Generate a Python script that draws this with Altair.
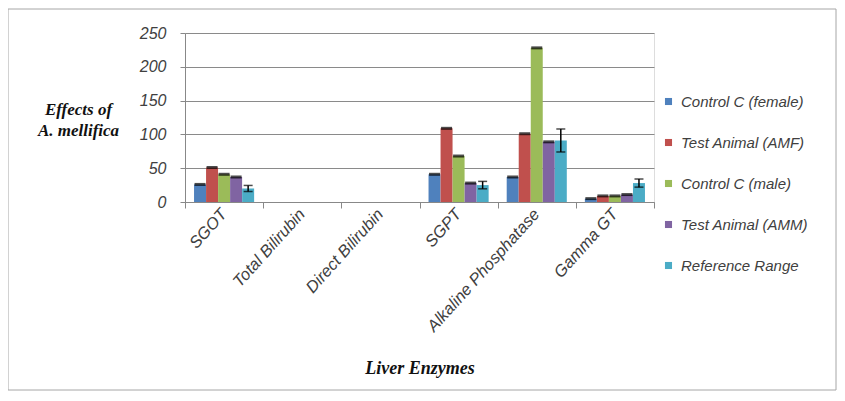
import altair as alt
import pandas as pd

categories = ["SGOT", "Total Bilirubin", "Direct Bilirubin", "SGPT", "Alkaline Phosphatase", "Gamma GT"]
series = ["Control C (female)", "Test Animal (AMF)", "Control C (male)", "Test Animal (AMM)", "Reference Range"]
colors = ["#4F81BD", "#C0504D", "#9BBB59", "#8064A2", "#4BACC6"]

control_female = [26, None, None, 41, 37, 5]
test_amf = [51, None, None, 109, 101, 9]
control_male = [41, None, None, 68, 228, 9]
test_amm = [37, None, None, 28, 89, 11]
reference_range = [20, None, None, 25, 91, 28]
reference_err = [4.5, None, None, 5.5, 17, 6]

tick_positions = [0, 1, 2, 3, 4, 5, 6]
y_values = [0, 50, 100, 150, 200, 250]

rows = []
for s, vals in zip(series, [control_female, test_amf, control_male, test_amm, reference_range]):
    for c, v in zip(categories, vals):
        if v is not None:
            rows.append({"cat": c, "series": s, "value": v})
df = pd.DataFrame(rows)

err_rows = []
for c, v, e in zip(categories, reference_range, reference_err):
    if v is not None:
        err_rows.append({"cat": c, "series": "Reference Range", "lo": v - e, "hi": v + e})
err_df = pd.DataFrame(err_rows)

LABEL_FONT = "Liberation Sans"
TITLE_FONT = "Liberation Serif"

x_axis = alt.Axis(title="Liver Enzymes", labelAngle=-48, labelAlign="right",
                  labelBaseline="middle", ticks=False, domain=True,
                  domainColor="#888888", labelPadding=9, labelOverlap=False,
                  labelFont=LABEL_FONT, labelFontStyle="italic", labelFontSize=16.5,
                  labelColor="#404040",
                  titleFont=TITLE_FONT, titleFontStyle="italic", titleFontWeight="bold",
                  titleFontSize=18, titleColor="#111111",
                  titleY=166, titleBaseline="middle")
x_scale = alt.Scale(domain=categories, paddingInner=0, paddingOuter=0)
y_axis = alt.Axis(values=y_values, grid=True, gridColor="#8A8A8A", labelOverlap=False,
                  gridWidth=1, domainColor="#888888", tickColor="#888888", tickSize=5,
                  labelFont=LABEL_FONT, labelFontStyle="italic", labelFontSize=16,
                  labelColor="#404040", labelPadding=14,
                  title=["Effects of", "A. mellifica"], titleAngle=0,
                  titleX=-107, titleY=76, titleAlign="center", titleBaseline="middle",
                  titleFont=TITLE_FONT, titleFontStyle="italic", titleFontWeight="bold",
                  titleFontSize=17, titleColor="#111111", titleLineHeight=21)
y_scale = alt.Scale(domain=[0, 250])

def xe():
    return alt.X("cat:N", sort=categories, scale=x_scale, axis=x_axis)

def xoff():
    return alt.XOffset("series:N", sort=series,
                       scale=alt.Scale(domain=series, paddingInner=0, paddingOuter=0.75))

def ye(field):
    return alt.Y(field, scale=y_scale, axis=y_axis)

bars = alt.Chart(df).mark_bar(size=12).encode(
    x=xe(), xOffset=xoff(), y=ye("value:Q"),
    color=alt.Color("series:N", sort=series,
                    scale=alt.Scale(domain=series, range=colors),
                    legend=alt.Legend(title=None, orient="none", legendX=476, legendY=61,
                                      symbolType="square", symbolSize=50, symbolStrokeWidth=0,
                                      rowPadding=25, labelFont=LABEL_FONT,
                                      labelFontStyle="italic", labelFontSize=15,
                                      labelColor="#404040", labelOffset=5)),
)

caps = alt.Chart(df[df.series != "Reference Range"]).mark_tick(
    color="black", thickness=3, size=11).encode(
    x=xe(), xOffset=xoff(), y=ye("value:Q"),
)

err_rule = alt.Chart(err_df).mark_rule(color="black", strokeWidth=1.5).encode(
    x=xe(), xOffset=xoff(), y=ye("lo:Q"), y2="hi:Q",
)
err_lo = alt.Chart(err_df).mark_tick(color="black", thickness=1.5, size=9).encode(
    x=xe(), xOffset=xoff(), y=ye("lo:Q"),
)
err_hi = alt.Chart(err_df).mark_tick(color="black", thickness=1.5, size=9).encode(
    x=xe(), xOffset=xoff(), y=ye("hi:Q"),
)

inner = alt.layer(bars, err_rule, err_lo, err_hi, caps)

tick_layer = alt.Chart(pd.DataFrame({"t": tick_positions})).mark_point(opacity=0).encode(
    x=alt.X("t:Q", scale=alt.Scale(domain=[0, 6], nice=False, zero=False),
            axis=alt.Axis(values=tick_positions, labels=False, domain=False, grid=False,
                          ticks=True, tickSize=6, tickColor="#888888", title=None,
                          orient="bottom")),
)

border = alt.Chart(pd.DataFrame({"a": [0]})).mark_rect(
    fill=None, stroke="#A6A6A6", strokeWidth=1).encode(
    x=alt.value(-177), x2=alt.value(651), y=alt.value(-24), y2=alt.value(357))

chart = alt.layer(border, inner, tick_layer).resolve_scale(x="independent").properties(
    width=469, height=169,
    autosize=alt.AutoSizeParams(type="none"),
    padding={"left": 177, "top": 25, "right": 183, "bottom": 190},
).configure_view(stroke=None).configure(background="white")

chart.save("out.html", embed_options={"renderer": "svg", "actions": False})
